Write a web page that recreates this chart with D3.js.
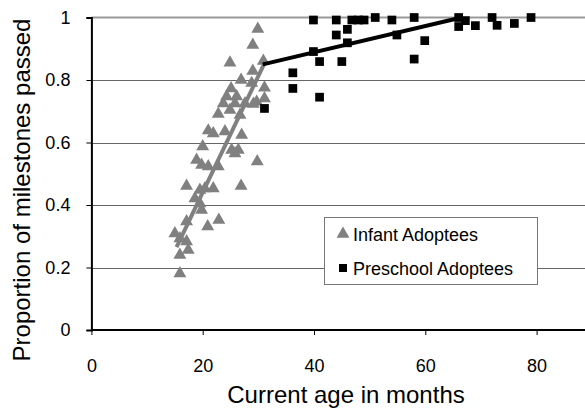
<!DOCTYPE html>
<html>
<head>
<meta charset="utf-8">
<script src="https://cdn.jsdelivr.net/npm/d3@7"></script>
<style>
  body { margin: 0; background: #fff; }
  svg { display: block; font-family: "Liberation Sans", Arial, sans-serif; }
</style>
</head>
<body>
<svg id="chart" width="585" height="408"></svg>
<script>
// infant adoptees (age in months, proportion passed)
var infantAge  = [29.9, 29.0, 24.9, 30.9, 29.0, 26.9, 28.8, 25.1, 31.1, 24.3, 26.1, 31.1, 29.7, 23.7, 25.8, 27.6, 29.1,
                  24.9, 22.8, 26.7, 21.0, 21.9, 24.0, 27.0, 20.0, 25.2, 26.4, 25.8, 18.9, 29.8, 19.8, 22.8, 21.0, 17.1,
                  21.9, 26.9, 19.5, 20.4, 18.6, 19.5, 19.8, 22.9, 20.9, 17.1, 15.0, 15.9, 17.1, 17.4, 15.9, 15.9];
var infantProp = [0.963, 0.912, 0.855, 0.861, 0.829, 0.80, 0.79, 0.773, 0.775, 0.747, 0.747, 0.741, 0.73, 0.725, 0.725, 0.725, 0.723,
                  0.704, 0.691, 0.688, 0.638, 0.629, 0.635, 0.624, 0.587, 0.576, 0.576, 0.565, 0.544, 0.539, 0.528, 0.523, 0.523, 0.461,
                  0.453, 0.461, 0.448, 0.453, 0.421, 0.405, 0.384, 0.352, 0.331, 0.347, 0.309, 0.293, 0.283, 0.256, 0.24, 0.181];

// preschool adoptees
var preschoolAge  = [31.1, 36.2, 36.2, 39.9, 39.9, 41.0, 41.0, 44.0, 44.0, 45.0, 46.0, 46.0, 46.8, 48.0, 49.0, 51.0, 54.0,
                     54.9, 58.0, 58.0, 59.9, 66.0, 66.0, 67.2, 69.0, 72.0, 72.9, 76.0, 79.0];
var preschoolProp = [0.709, 0.823, 0.773, 0.992, 0.891, 0.859, 0.745, 0.992, 0.944, 0.859, 0.962, 0.919, 0.992, 0.992, 0.992, 1.0, 0.992,
                     0.944, 1.0, 0.867, 0.926, 1.0, 0.971, 0.99, 0.974, 1.0, 0.975, 0.981, 1.0];

// trend lines (end points), the preschool one is cut at the axis maximum
var infantFit    = [[15.3, 0.265], [31.0, 0.85]];
var preschoolFit = [[30.8, 0.85], [66.5, 1.0]];

var xTicks = [0, 20, 40, 60, 80];
var yTicks = [0, 0.2, 0.4, 0.6, 0.8, 1];
var legendLabels = ["Infant Adoptees", "Preschool Adoptees"];

var svg = d3.select("#chart");

var x = d3.scaleLinear().domain([0, 100]).range([91.4, 647.9]);
var y = d3.scaleLinear().domain([0, 1]).range([330, 17.5]);

// gridlines
svg.append("g")
    .selectAll("line")
    .data(yTicks.filter(function(d) { return d > 0 && d < 1; }))
    .enter().append("line")
    .attr("x1", x(0)).attr("x2", 585)
    .attr("y1", function(d) { return Math.round(y(d)) + 0.5; })
    .attr("y2", function(d) { return Math.round(y(d)) + 0.5; })
    .attr("stroke", "#666")
    .attr("stroke-width", 1);

// plot area top border
svg.append("line")
    .attr("x1", x(0)).attr("x2", 585)
    .attr("y1", y(1)).attr("y2", y(1))
    .attr("stroke", "#999")
    .attr("stroke-width", 2);

// axes
var xAxis = svg.append("g")
    .attr("transform", "translate(0," + y(0) + ")")
    .call(d3.axisBottom(x).tickValues(xTicks).tickSize(5).tickPadding(24));
var yAxis = svg.append("g")
    .attr("transform", "translate(" + x(0) + ",0)")
    .call(d3.axisLeft(y).tickValues(yTicks).tickFormat(d3.format("")).tickSize(5).tickPadding(16));

[xAxis, yAxis].forEach(function(a) {
    a.select(".domain").attr("stroke", "#000").attr("stroke-width", 2);
    a.selectAll(".tick line").attr("stroke", "#000");
    a.selectAll(".tick text")
        .attr("fill", "#000")
        .style("font-size", "18px")
        .style("font-family", "Liberation Sans, Arial, sans-serif");
});
xAxis.select(".domain").attr("d", "M" + x(0) + ",0H585");

var infant = infantAge.map(function(a, i) { return { age: a, prop: infantProp[i] }; });
var preschool = preschoolAge.map(function(a, i) { return { age: a, prop: preschoolProp[i] }; });

var tri = d3.symbol().type(d3.symbolTriangle).size(72);
var sq = d3.symbol().type(d3.symbolSquare).size(76);

// infant points
svg.append("g")
    .selectAll("path")
    .data(infant)
    .enter().append("path")
    .attr("d", tri)
    .attr("transform", function(d) { return "translate(" + x(d.age) + "," + y(d.prop) + ")"; })
    .attr("fill", "#808080");

// preschool points
svg.append("g")
    .selectAll("path")
    .data(preschool)
    .enter().append("path")
    .attr("d", sq)
    .attr("transform", function(d) { return "translate(" + x(d.age) + "," + y(d.prop) + ")"; })
    .attr("fill", "#000");

// trend lines
var line = d3.line()
    .x(function(d) { return x(d[0]); })
    .y(function(d) { return y(d[1]); });

svg.append("path")
    .attr("d", line(infantFit))
    .attr("fill", "none")
    .attr("stroke", "#808080")
    .attr("stroke-width", 4);

svg.append("path")
    .attr("d", line(preschoolFit))
    .attr("fill", "none")
    .attr("stroke", "#000")
    .attr("stroke-width", 4);

// legend
var legend = svg.append("g");
legend.append("rect")
    .attr("x", 324.5).attr("y", 217.5)
    .attr("width", 213).attr("height", 67)
    .attr("fill", "#fff")
    .attr("stroke", "#777");

var items = legend.selectAll("g.item")
    .data(legendLabels)
    .enter().append("g")
    .attr("class", "item")
    .attr("transform", function(d, i) { return "translate(343," + (234 + i * 34) + ")"; });

items.append("path")
    .attr("d", function(d, i) { return i === 0 ? tri() : d3.symbol().type(d3.symbolSquare).size(64)(); })
    .attr("fill", function(d, i) { return i === 0 ? "#808080" : "#000"; });

items.append("text")
    .attr("x", 10)
    .attr("y", 7)
    .style("font-size", "18px")
    .text(function(d) { return d; });

// axis titles
svg.append("text")
    .attr("x", 346)
    .attr("y", 403)
    .attr("text-anchor", "middle")
    .style("font-size", "24px")
    .text("Current age in months");

svg.append("text")
    .attr("transform", "translate(30,190) rotate(-90)")
    .attr("text-anchor", "middle")
    .style("font-size", "24px")
    .text("Proportion of milestones passed");
</script>
</body>
</html>
